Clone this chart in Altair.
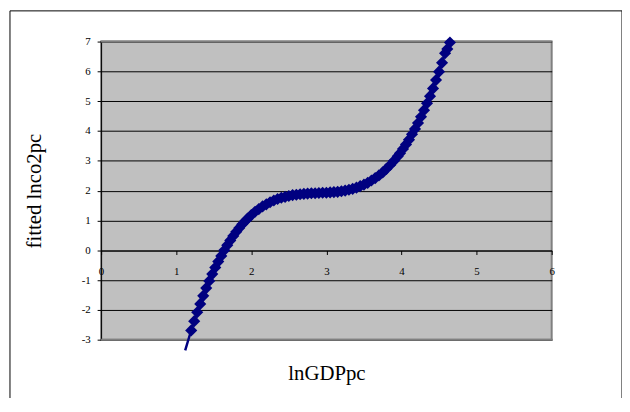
import altair as alt
import pandas as pd

# lnGDPpc values
ln_gdppc = [1.12, 1.16, 1.20, 1.24, 1.28, 1.32, 1.36, 1.40, 1.44, 1.48, 1.52,
            1.56, 1.60, 1.64, 1.68, 1.72, 1.76, 1.80, 1.84, 1.88, 1.92,
            1.95, 2.00, 2.05, 2.10, 2.15, 2.20, 2.25, 2.30, 2.35, 2.40, 2.45,
            2.50, 2.55, 2.60, 2.65, 2.70, 2.75, 2.80, 2.85, 2.90, 2.95, 3.00,
            3.05, 3.10, 3.15, 3.20, 3.25, 3.30, 3.35, 3.40, 3.45, 3.50, 3.55,
            3.60, 3.65, 3.70, 3.75, 3.80, 3.85, 3.90, 3.95,
            3.98, 4.02, 4.06, 4.10, 4.14, 4.18, 4.22, 4.26, 4.30, 4.34, 4.38,
            4.42, 4.46, 4.50, 4.54, 4.58, 4.61, 4.645]
# fitted lnco2pc values
fitted = [-3.36, -3.02, -2.69, -2.38, -2.08, -1.80, -1.53, -1.27, -1.03, -0.80, -0.58,
          -0.38, -0.19, 0.00, 0.17, 0.33, 0.48, 0.62, 0.75, 0.87, 0.98,
          1.06, 1.18, 1.29, 1.38, 1.47, 1.54, 1.61, 1.67, 1.72, 1.76, 1.79,
          1.82, 1.85, 1.86, 1.88, 1.89, 1.90, 1.91, 1.91, 1.92, 1.93, 1.93,
          1.94, 1.95, 1.96, 1.98, 2.00, 2.03, 2.06, 2.10, 2.15, 2.20, 2.26,
          2.34, 2.42, 2.51, 2.61, 2.73, 2.86, 3.00, 3.15,
          3.25, 3.40, 3.55, 3.71, 3.89, 4.07, 4.27, 4.48, 4.70, 4.93, 5.17,
          5.43, 5.71, 5.99, 6.29, 6.61, 6.75, 6.97]

x_ticks = [0, 1, 2, 3, 4, 5, 6]
y_ticks = [-3, -2, -1, 0, 1, 2, 3, 4, 5, 6, 7]

df = pd.DataFrame({"lnGDPpc": ln_gdppc, "fitted": fitted})

NAVY = "#000080"
SERIF = "Liberation Serif"

xs = alt.Scale(domain=[0, 6], nice=False, zero=False)
ys = alt.Scale(domain=[-3, 7], nice=False, zero=False)

x_axis = alt.Axis(
    values=x_ticks, tickCount=len(x_ticks), offset=-90, tickSize=4, tickColor="black",
    domainColor="black",
    labelPadding=11, labelFlush=False, labelOverlap=False, labelExpr="'' + datum.value",
    labelFont=SERIF, labelFontSize=11, labelColor="black",
    grid=False, title="lnGDPpc", titleFont=SERIF, titleFontSize=21, titleFontWeight="normal",
    titleColor="black", titleX=227.5, titleY=124, titleAlign="center", titleBaseline="middle",
)
y_axis = alt.Axis(
    values=y_ticks, tickCount=len(y_ticks), tickSize=4, tickColor="black", domainColor="black",
    labelPadding=7, labelOverlap=False, labelExpr="'' + datum.value",
    labelFont=SERIF, labelFontSize=11, labelColor="black",
    grid=True, gridColor="#000000", gridWidth=1, gridOpacity=1,
    title="fitted lnco2pc", titleFont=SERIF, titleFontSize=21, titleFontWeight="normal",
    titleColor="black", titleX=-67, titleY=150.5, titleAngle=-90, titleAlign="center",
    titleBaseline="middle",
)

base = alt.Chart(df)
line = base.mark_line(color=NAVY, strokeWidth=2.5, clip=False).encode(
    x=alt.X("lnGDPpc:Q", scale=xs, axis=x_axis),
    y=alt.Y("fitted:Q", scale=ys, axis=y_axis),
    order="lnGDPpc:Q",
)
pts = base.transform_filter("datum.fitted >= -3 && datum.fitted <= 7").mark_point(
    shape="diamond", filled=True, size=150, color=NAVY, opacity=1
).encode(x=alt.X("lnGDPpc:Q", scale=xs, axis=x_axis),
         y=alt.Y("fitted:Q", scale=ys, axis=y_axis))

frame_data = alt.Data(values=[{"a": 1}])
# gray plot-area edges at top and bottom drawn over the black grid
edge_top = alt.Chart(frame_data).mark_rule(color="#808080", strokeWidth=2).encode(
    x=alt.value(0), x2=alt.value(455), y=alt.value(0))
edge_bottom = alt.Chart(frame_data).mark_rule(color="#808080", strokeWidth=2).encode(
    x=alt.value(0), x2=alt.value(456), y=alt.value(301))
left = alt.Chart(frame_data).mark_rule(color="black", strokeWidth=1).encode(
    x=alt.value(-92), y=alt.value(-31), y2=alt.value(420))
top = alt.Chart(frame_data).mark_rule(color="black", strokeWidth=1).encode(
    x=alt.value(-92), x2=alt.value(526), y=alt.value(-31))
right = alt.Chart(frame_data).mark_rule(color="black", strokeWidth=1).encode(
    x=alt.value(526), y=alt.value(-31), y2=alt.value(420))

chart = alt.layer(edge_top, edge_bottom, line, pts, left, top, right).properties(
    width=455, height=301,
    autosize=alt.AutoSizeParams(type="none"),
    padding={"left": 94, "top": 32, "right": 71, "bottom": 57},
    background="white",
).configure_view(fill="#C0C0C0", stroke="#808080", strokeWidth=2)

chart.save("out.html", embed_options={"renderer": "svg", "actions": False})
